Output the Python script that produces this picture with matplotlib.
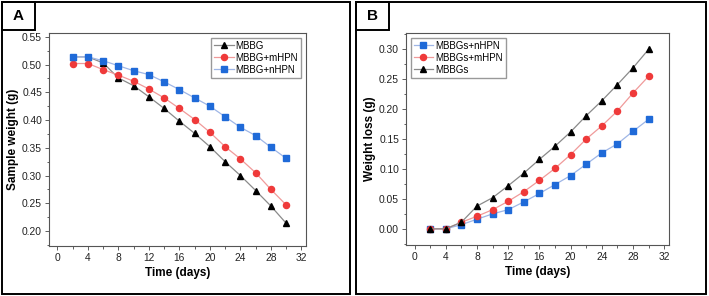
import numpy as np
import matplotlib
matplotlib.use("Agg")
import matplotlib.pyplot as plt
from matplotlib.patches import Rectangle
from matplotlib.ticker import MultipleLocator, FormatStrFormatter

plt.rcParams['font.family'] = ['Liberation Sans', 'DejaVu Sans']

days = [2, 4, 6, 8, 10, 12, 14, 16, 18, 20, 22, 24, 26, 28, 30]

# panel A: sample weight (g)
w_mbbg = [0.514, 0.514, 0.503, 0.476, 0.462, 0.442, 0.421, 0.398, 0.376, 0.352, 0.325, 0.300, 0.273, 0.245, 0.214]
w_mhpn = [0.502, 0.502, 0.491, 0.481, 0.470, 0.456, 0.440, 0.421, 0.401, 0.378, 0.352, 0.330, 0.305, 0.275, 0.247]
w_nhpn = [0.514, 0.514, 0.507, 0.498, 0.489, 0.482, 0.469, 0.455, 0.440, 0.425, 0.406, 0.387, 0.372, 0.351, 0.331]

# panel B: weight loss (g)
l_nhpn = [0.0, 0.0, 0.007, 0.016, 0.025, 0.032, 0.045, 0.059, 0.074, 0.089, 0.108, 0.127, 0.142, 0.163, 0.183]
l_mhpn = [0.0, 0.0, 0.011, 0.021, 0.032, 0.046, 0.062, 0.081, 0.101, 0.124, 0.150, 0.172, 0.197, 0.227, 0.255]
l_mbbg = [0.0, 0.0, 0.011, 0.038, 0.052, 0.072, 0.093, 0.116, 0.138, 0.162, 0.189, 0.214, 0.241, 0.269, 0.300]

BLK = ("#000000", "#8a8a8a", "^")
RED = ("#ef3a3a", "#f09a9a", "o")
BLU = ("#1f6ad8", "#9fb6e6", "s")


def series(ax, y, style, label):
    mc, lc, mk = style
    ax.plot(days, y, color=lc, lw=0.9, marker=mk, ms=4.4,
            mfc=mc, mec=mc, label=label)


def style_axes(ax, ylabel):
    ax.set_xlim(-1.1, 32.6)
    ax.xaxis.set_major_locator(MultipleLocator(4))
    ax.xaxis.set_minor_locator(MultipleLocator(2))
    ax.yaxis.set_major_locator(MultipleLocator(0.05))
    ax.yaxis.set_minor_locator(MultipleLocator(0.025))
    ax.yaxis.set_major_formatter(FormatStrFormatter('%.2f'))
    ax.tick_params(which='both', direction='out', labelsize=7.4, color='#444444',
                   labelcolor='#222222', width=0.6, pad=2)
    ax.tick_params(which='major', length=3)
    ax.tick_params(which='minor', length=1.8)
    for s in ax.spines.values():
        s.set_color('#555555')
        s.set_linewidth(0.8)
    ax.set_xlabel("Time (days)", fontsize=8.5, fontweight='bold', labelpad=3)
    ax.set_ylabel(ylabel, fontsize=8.5, fontweight='bold', labelpad=2)


def legend(ax, loc):
    ax.legend(loc=loc, fontsize=7, frameon=True, fancybox=False,
              edgecolor='#999999', framealpha=1, handlelength=2.0, handletextpad=0.2,
              borderpad=0.3, labelspacing=0.2, borderaxespad=0.5)


fig = plt.figure(figsize=(7.09, 2.96), dpi=100)

axA = fig.add_axes([0.0691, 0.1689, 0.3625, 0.7196])
series(axA, w_mbbg, BLK, "MBBG")
series(axA, w_mhpn, RED, "MBBG+mHPN")
series(axA, w_nhpn, BLU, "MBBG+nHPN")
axA.set_ylim(0.173, 0.557)
style_axes(axA, "Sample weight (g)")
legend(axA, 'upper right')

axB = fig.add_axes([0.5726, 0.1723, 0.371, 0.7162])
series(axB, l_nhpn, BLU, "MBBGs+nHPN")
series(axB, l_mhpn, RED, "MBBGs+mHPN")
series(axB, l_mbbg, BLK, "MBBGs")
axB.set_ylim(-0.027, 0.327)
style_axes(axB, "Weight loss (g)")
legend(axB, 'upper left')

# panel frames and letter boxes
W, H = 709.0, 296.0
for x0, x1, letter in [(2, 350, "A"), (356, 706, "B")]:
    fig.add_artist(Rectangle((x0 / W, 2 / H), (x1 - x0) / W, 292 / H,
                             transform=fig.transFigure, fill=False,
                             edgecolor='black', lw=1.4))
    fig.add_artist(Rectangle((x0 / W, (H - 30) / H), 33 / W, 28 / H,
                             transform=fig.transFigure, fill=False,
                             edgecolor='black', lw=1.4))
    fig.text((x0 + 16.5) / W, (H - 16) / H, letter, fontsize=11,
             fontweight='bold', ha='center', va='center')

fig.savefig("out.png", dpi=100)
